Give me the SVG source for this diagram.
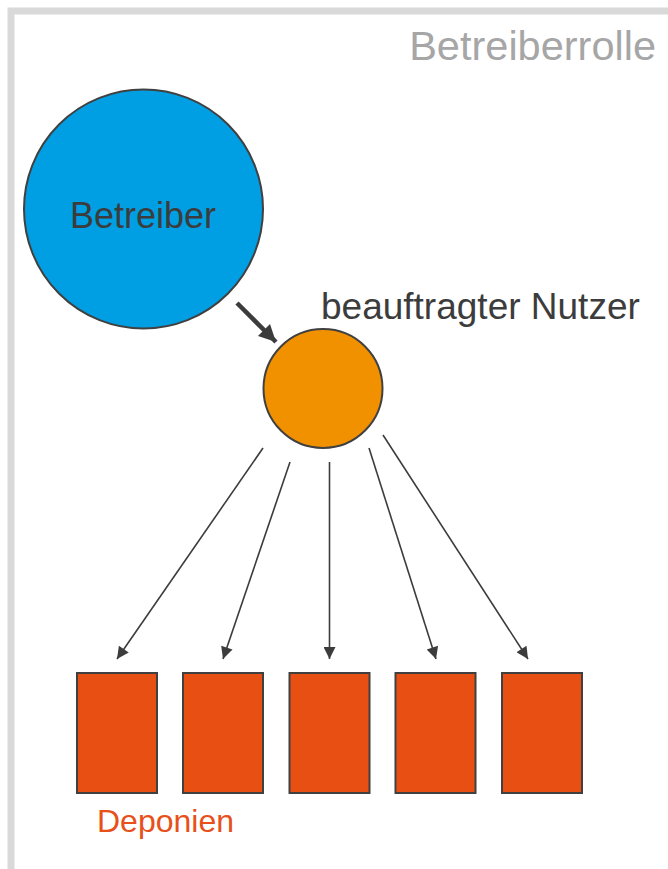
<svg xmlns="http://www.w3.org/2000/svg" width="668" height="869" viewBox="0 0 668 869">
<style>
.t{font-family:"Liberation Sans",Arial,sans-serif}
.box{fill:#e84f12;stroke:#404040;stroke-width:2}
.thin{stroke:#3c3c3c;stroke-width:1.6;fill:none}
</style>
<defs>
<marker id="ah" viewBox="0 0 10 10" refX="10" refY="5" markerUnits="userSpaceOnUse" markerWidth="15" markerHeight="12" orient="auto">
<path d="M0,0 L10,5 L0,10 Z" fill="#3c3c3c"/>
</marker>
<marker id="ahb" viewBox="0 0 10 10" refX="10" refY="5" markerUnits="userSpaceOnUse" markerWidth="21" markerHeight="17" orient="auto">
<path d="M0,0 L10,5 L0,10 Z" fill="#3c3c3c"/>
</marker>
</defs>
<rect width="668" height="869" fill="#ffffff"/>
<g id="frame">
<rect x="11" y="11" width="720" height="920" fill="none" stroke="#d9d9d9" stroke-width="7"/>
<text class="t" x="656" y="60" font-size="41.5" fill="#a6a6a6" text-anchor="end">Betreiberrolle</text>
</g>
<g id="betreiber">
<circle cx="143.5" cy="209" r="119.5" fill="#009fe3" stroke="#404040" stroke-width="2"/>
<text class="t" x="143" y="228" font-size="36" fill="#3c3c3c" text-anchor="middle">Betreiber</text>
</g>
<g id="nutzer">
<circle cx="323" cy="388.5" r="59.5" fill="#f29100" stroke="#404040" stroke-width="2"/>
<text class="t" x="321" y="319" font-size="37" fill="#3c3c3c">beauftragter Nutzer</text>
</g>
<g id="connectors">
<line x1="237" y1="303" x2="276" y2="342" stroke="#3c3c3c" stroke-width="4.5" marker-end="url(#ahb)"/>
<line class="thin" x1="263" y1="448" x2="117" y2="659" marker-end="url(#ah)"/>
<line class="thin" x1="290" y1="462" x2="223" y2="659" marker-end="url(#ah)"/>
<line class="thin" x1="329.5" y1="462" x2="329.5" y2="659" marker-end="url(#ah)"/>
<line class="thin" x1="369" y1="448" x2="436" y2="659" marker-end="url(#ah)"/>
<line class="thin" x1="383" y1="435" x2="528" y2="659" marker-end="url(#ah)"/>
</g>
<g id="deponie1"><rect class="box" x="77" y="673" width="80" height="120"/></g>
<g id="deponie2"><rect class="box" x="183" y="673" width="80" height="120"/></g>
<g id="deponie3"><rect class="box" x="289.5" y="673" width="80" height="120"/></g>
<g id="deponie4"><rect class="box" x="395.5" y="673" width="80" height="120"/></g>
<g id="deponie5"><rect class="box" x="502" y="673" width="80" height="120"/></g>
<g id="deponien-label">
<text class="t" x="97" y="832" font-size="32" fill="#e8501a">Deponien</text>
</g>
</svg>
